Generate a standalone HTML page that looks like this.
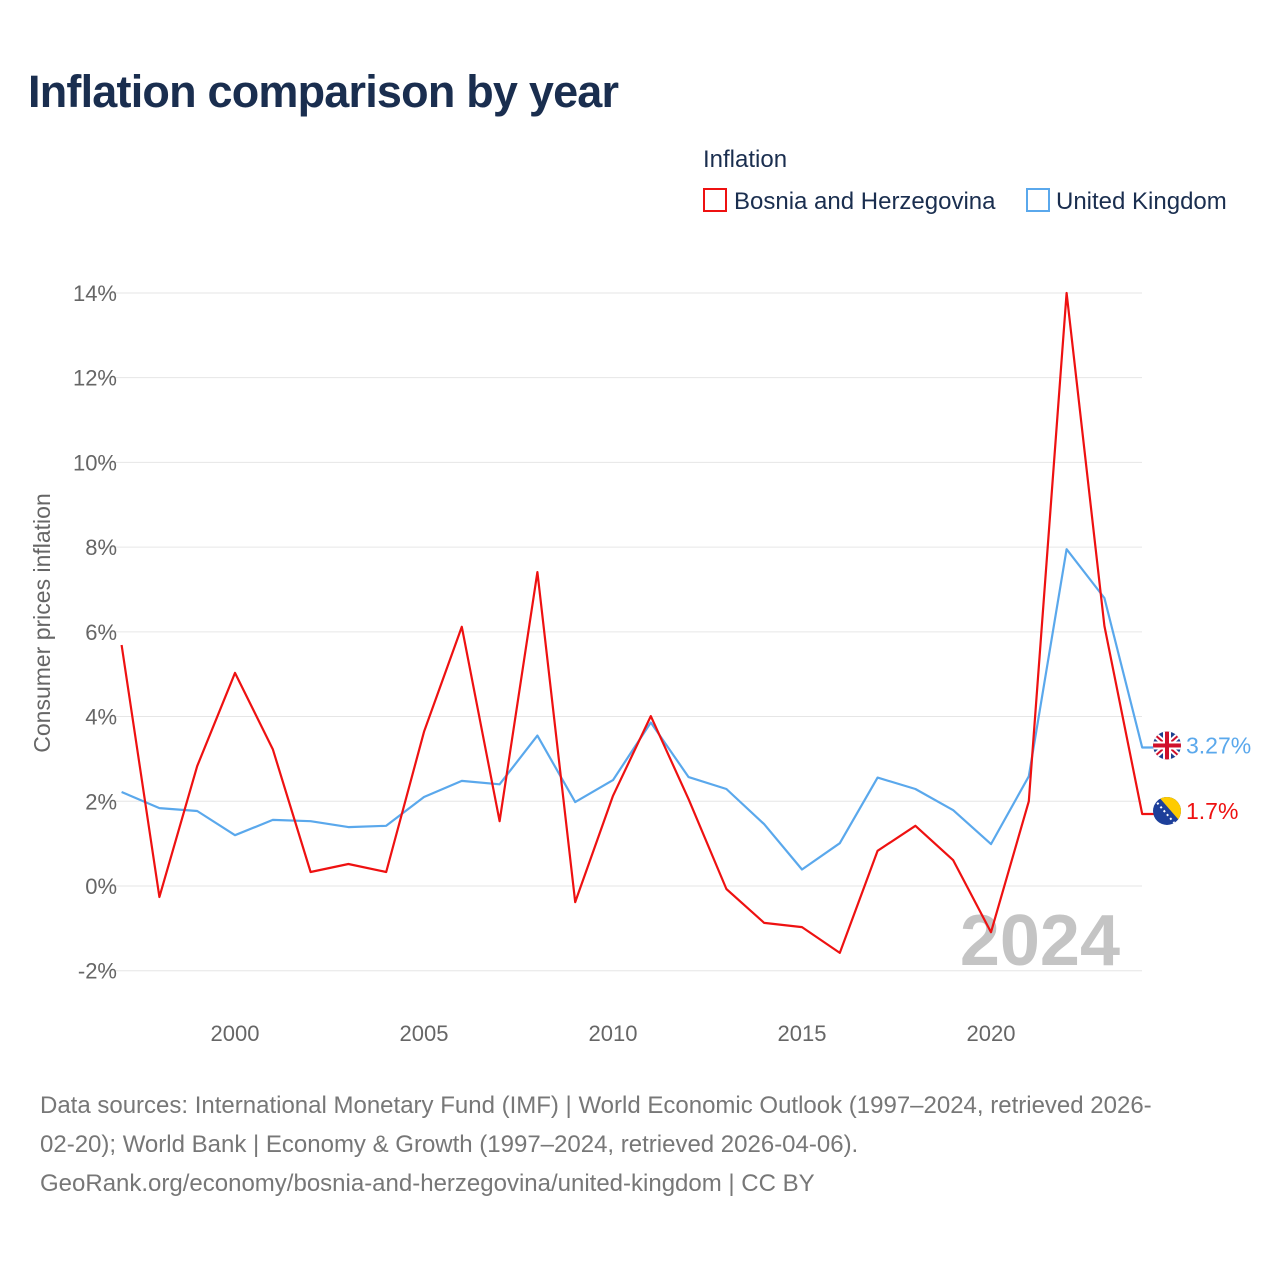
<!DOCTYPE html>
<html><head><meta charset="utf-8"><style>
body{margin:0;width:1280px;height:1280px;background:#fff;font-family:"Liberation Sans",sans-serif;overflow:hidden}
#t{position:absolute;left:28px;top:66px;font-size:45px;font-weight:bold;color:#1a2e4f;letter-spacing:-0.8px}
#foot{position:absolute;left:40px;top:1086px;width:1230px;font-size:24px;line-height:39px;color:#777;white-space:nowrap}
</style></head><body>
<div id="t">Inflation comparison by year</div>
<svg id="c" width="1280" height="1080" style="position:absolute;left:0;top:0"></svg>
<div id="foot">Data sources: International Monetary Fund (IMF) | World Economic Outlook (1997–2024, retrieved 2026-<br>02-20); World Bank | Economy &amp; Growth (1997–2024, retrieved 2026-04-06).<br>GeoRank.org/economy/bosnia-and-herzegovina/united-kingdom | CC BY</div>
<script>
const years=[1997,1998,1999,2000,2001,2002,2003,2004,2005,2006,2007,2008,2009,2010,2011,2012,2013,2014,2015,2016,2017,2018,2019,2020,2021,2022,2023,2024];
const bosnia=[5.69,-0.26,2.83,5.03,3.23,0.33,0.52,0.33,3.64,6.12,1.53,7.41,-0.38,2.13,4.01,2.05,-0.07,-0.87,-0.97,-1.58,0.83,1.42,0.61,-1.09,2.0,14.0,6.14,1.7];
const uk=[2.22,1.84,1.77,1.2,1.56,1.53,1.39,1.42,2.1,2.48,2.4,3.55,1.98,2.5,3.86,2.57,2.29,1.46,0.39,1.01,2.56,2.29,1.79,0.99,2.59,7.95,6.8,3.27];
const yTicks=[-2,0,2,4,6,8,10,12,14];
const xTicks=[2000,2005,2010,2015,2020];
const NS="http://www.w3.org/2000/svg",svg=document.getElementById('c');
const X=y=>121.6+(y-1997)*37.8, Y=v=>886-v*42.36;
function el(tag,attrs,txt){const e=document.createElementNS(NS,tag);for(const k in attrs)e.setAttribute(k,attrs[k]);if(txt!==undefined)e.textContent=txt;svg.appendChild(e);return e;}
yTicks.forEach(v=>{
 const g=el('line',{x1:100,x2:1142,y1:Y(v),y2:Y(v),stroke:'#e6e6e6','stroke-width':1});
 
 
 const t=el('text',{x:117,y:Y(v)+8,'text-anchor':'end','font-size':22,fill:'#666'},v+'%');
 
 
});
xTicks.forEach(y=>{
 const t=el('text',{x:X(y),y:1041,'text-anchor':'middle','font-size':22,fill:'#666'},String(y));
 
 
});
const yt=el('text',{transform:'translate(50,623) rotate(-90)','text-anchor':'middle','font-size':23,fill:'#666'},'Consumer prices inflation');


const yr=el('text',{x:1120,y:965,'text-anchor':'end','font-size':72,'font-weight':'bold',fill:'#c4c4c4'},'2024');


function line(data,color,name){
 let d=data.map((v,i)=>(i?'L':'M')+X(years[i]).toFixed(1)+','+Y(v).toFixed(1)).join(' ');
 d+=' L'+(X(years[years.length-1])+13)+','+Y(data[data.length-1]).toFixed(1);
 const p=el('path',{d:d,fill:'none',stroke:color,'stroke-width':2.2,'stroke-linejoin':'round'});
 
 
}
line(uk,'#5aa8ec','uk-line');
line(bosnia,'#ee1111','bosnia-line');
const ly=Y(uk[uk.length-1])-2, lb=Y(bosnia[bosnia.length-1])-3;
const f1=el('g',{});


f1.innerHTML=`<clipPath id="cu"><circle cx="1167" cy="${ly}" r="14"/></clipPath><g clip-path="url(#cu)"><rect x="1150" y="${ly-15}" width="34" height="30" fill="#1d3f8f"/><path d="M1150 ${ly-15} L1184 ${ly+15} M1184 ${ly-15} L1150 ${ly+15}" stroke="#fff" stroke-width="6"/><path d="M1150 ${ly-15} L1184 ${ly+15} M1184 ${ly-15} L1150 ${ly+15}" stroke="#d0102b" stroke-width="2"/><rect x="1150" y="${ly-4}" width="34" height="8" fill="#fff"/><rect x="1163" y="${ly-15}" width="8" height="30" fill="#fff"/><rect x="1150" y="${ly-2}" width="34" height="4" fill="#d0102b"/><rect x="1165" y="${ly-15}" width="4" height="30" fill="#d0102b"/></g>`;
svg.appendChild(f1);
const f2=el('g',{});


f2.innerHTML=`<clipPath id="cb"><circle cx="1167" cy="${lb}" r="14"/></clipPath><g clip-path="url(#cb)"><rect x="1150" y="${lb-15}" width="34" height="30" fill="#1d3f9a"/><path d="M1158 ${lb-15} L1184 ${lb-15} L1184 ${lb+15} Z" fill="#fecb00"/><path d="M1154 ${lb-12} L1176 ${lb+14}" stroke="#fff" stroke-width="2" stroke-dasharray="2 3"/></g>`;
svg.appendChild(f2);
const l1=el('text',{x:1186,y:ly+8,'font-size':23,fill:'#5aa8ec'},uk[uk.length-1]+'%');


const l2=el('text',{x:1186,y:lb+8,'font-size':23,fill:'#ee1111'},bosnia[bosnia.length-1]+'%');


const lt=el('text',{x:703,y:167,'font-size':24,fill:'#1a2e4f'},'Inflation');


const r1=el('rect',{x:704,y:189,width:22,height:22,fill:'#fff',stroke:'#ee1111','stroke-width':2});


const t1=el('text',{x:734,y:209,'font-size':24,fill:'#1a2e4f'},'Bosnia and Herzegovina');


const r2=el('rect',{x:1027,y:189,width:22,height:22,fill:'#fff',stroke:'#5aa8ec','stroke-width':2});


const t2=el('text',{x:1056,y:209,'font-size':24,fill:'#1a2e4f'},'United Kingdom');


</script>
</body></html>
